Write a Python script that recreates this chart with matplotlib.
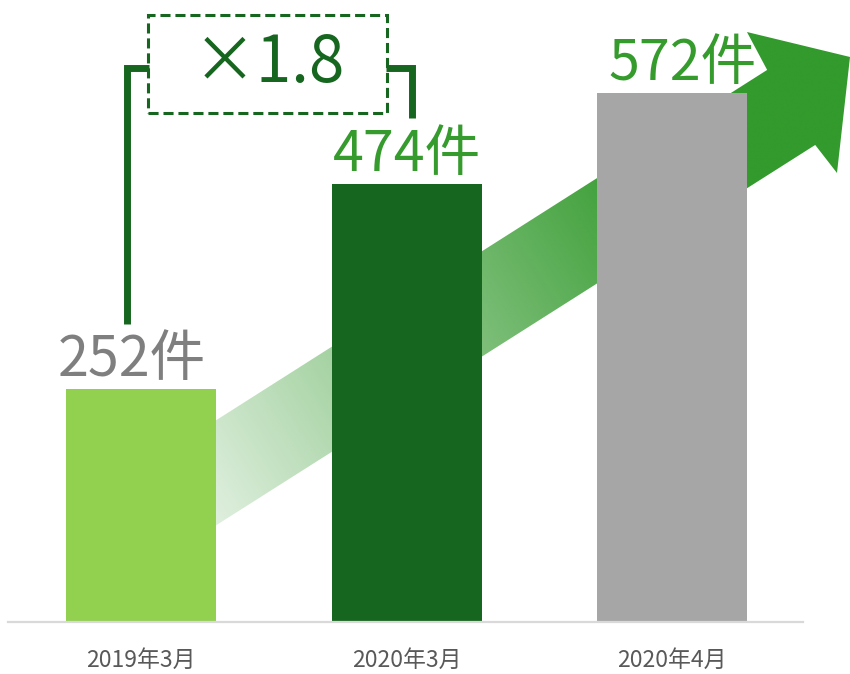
import numpy as np
import matplotlib
matplotlib.use("Agg")
import matplotlib.pyplot as plt
from matplotlib.patches import Polygon, Rectangle

plt.rcParams['font.family'] = ['Noto Sans CJK JP', 'DejaVu Sans']

# ---- data ----
categories = ["2019年3月", "2020年3月", "2020年4月"]
values = [252, 474, 572]
value_labels = ["252件", "474件", "572件"]
bar_colors = ["#92d050", "#17661f", "#a6a6a6"]
label_colors = ["#7f7f7f", "#359b2d", "#359b2d"]
ratio_text = "×1.8"

fig = plt.figure(figsize=(8.5, 6.74), dpi=100)
ax = fig.add_axes([0, 52 / 674, 1, 622 / 674])
XL = (-0.531, 2.670)
YL = (0, 672.4)
ax.set_xlim(*XL)
ax.set_ylim(*YL)

x = np.arange(len(values))
ax.bar(x, values, width=0.565, color=bar_colors, zorder=2)

# axes styling
for s in ["top", "left", "right"]:
    ax.spines[s].set_visible(False)
ax.spines["bottom"].set_color("#d9d9d9")
ax.spines["bottom"].set_linewidth(1.6)
ax.spines["bottom"].set_bounds(-0.501, 2.493)
ax.set_yticks([])
ax.set_xticks(x)
ax.set_xticklabels(categories, fontsize=16.5, color="#595959")
ax.tick_params(axis="x", length=0, pad=19)

# value labels
label_dx = [-0.035, 0.0, 0.04]
for xi, v, t, c, dx in zip(x, values, value_labels, label_colors, label_dx):
    ax.annotate(t, xy=(xi + dx, v), xytext=(0, 9), textcoords="offset points",
                ha="center", va="baseline", fontsize=40, color=c, zorder=4,
                annotation_clip=False)

# gradient arrow (decorative)
arrow_pts = np.array([
    [0.0, 53.0], [0.0, 166.5], [2.358, 596.8], [2.282, 637.8],
    [2.670, 610.8], [2.621, 485.4], [2.539, 515.7]
])
green = np.array([51, 154, 45]) / 255.0
poly = Polygon(arrow_pts, closed=True, facecolor="none", edgecolor="none",
               transform=ax.transData)
ax.add_patch(poly)
x0, x1 = -0.05, 2.72
y0, y1 = 40, 660
nx, ny = 600, 500
gx = np.linspace(x0, x1, nx)
gy = np.linspace(y0, y1, ny)
GX, GY = np.meshgrid(gx, gy)
pts = ax.transData.transform(np.column_stack([GX.ravel(), GY.ravel()]))
s = (pts[:, 0] + 0.635 * pts[:, 1]) / np.hypot(1, 0.635)
alpha = np.clip((s - 157.7) / 663.3, 0, 1).reshape(ny, nx)
img = np.zeros((ny, nx, 4))
img[..., :3] = green
img[..., 3] = alpha
im = ax.imshow(img, extent=[x0, x1, y0, y1], origin="lower", aspect="auto",
               zorder=1, interpolation="bilinear")
im.set_clip_path(poly)
im.set_clip_box(fig.bbox)
ax.set_xlim(*XL)
ax.set_ylim(*YL)

# bracket
dark = "#17661f"
ax.plot([-0.0527, -0.0527, 0.0301], [322.2, 598.9, 598.9], color=dark, lw=5,
        solid_capstyle="butt", solid_joinstyle="miter", zorder=3, clip_on=False)
ax.plot([0.9228, 1.0207, 1.0207], [598.9, 598.9, 544.9], color=dark, lw=5,
        solid_capstyle="butt", solid_joinstyle="miter", zorder=3, clip_on=False)

# dashed box
rect = Rectangle((0.0264, 550.3), 0.9002, 105.9, fill=False, edgecolor=dark,
                 lw=2.2, linestyle=(0, (3.3, 1.6)), zorder=3, clip_on=False)
ax.add_patch(rect)
ax.text(0.482, 603, ratio_text, ha="center", va="center", fontsize=46,
        color=dark, zorder=4)

fig.savefig("out.png", dpi=100, facecolor="white")
